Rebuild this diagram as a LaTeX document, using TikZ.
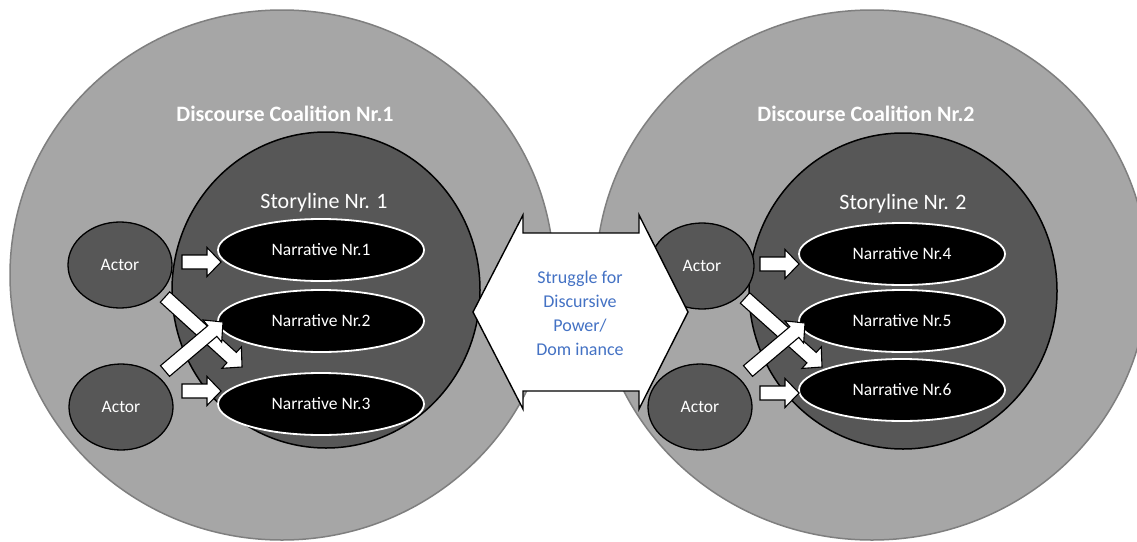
\documentclass[tikz,border=0pt]{standalone}
\usepackage{fontspec}
\setmainfont{Carlito}
\usetikzlibrary{shapes.geometric,calc}
\definecolor{bigfill}{HTML}{A6A6A6}
\definecolor{bigline}{HTML}{7F7F7F}
\definecolor{darkfill}{HTML}{575757}
\definecolor{struggleblue}{HTML}{4472C4}
\newcommand\blockarrow[2]{%
  \coordinate (hb) at ($(#2)!14pt!(#1)$);
  \draw[arrowbody] ($(#1)!7pt!90:(#2)$) -- ($(hb)!7pt!90:(#2)$) -- ($(hb)!14.5pt!90:(#2)$) -- (#2)
    -- ($(hb)!14.5pt!-90:(#2)$) -- ($(hb)!7pt!-90:(#2)$) -- ($(#1)!7pt!-90:(#2)$) -- cycle;%
}
\begin{document}
\begin{tikzpicture}[x=1pt,y=-1pt,
  big/.style={ellipse,draw=bigline,fill=bigfill,line width=1.5pt,inner sep=0pt},
  story/.style={ellipse,draw=black,fill=darkfill,line width=1.5pt,inner sep=0pt,minimum width=308pt,minimum height=316pt},
  actor/.style={ellipse,draw=black,fill=darkfill,line width=1.3pt,inner sep=0pt,minimum width=104pt,minimum height=86pt,text=white,font=\fontsize{17.5}{21}\selectfont},
  narr/.style={ellipse,draw=white,fill=black,line width=1.8pt,inner sep=0pt,minimum width=206pt,minimum height=62pt,text=white,font=\fontsize{17.5}{21}\selectfont},
  title/.style={text=white,font=\bfseries\fontsize{22}{26}\selectfont},
  stitle/.style={text=white,font=\fontsize{22}{26}\selectfont},
  arrowbody/.style={draw=black,fill=white,line width=1.1pt,line join=miter}
]
\useasboundingbox (0,0) rectangle (1137,541);
\clip (0,0) rectangle (1137,541);
\fill[white] (0,0) rectangle (1137,541);

% big coalition circles
\node[big,minimum width=544pt,minimum height=530pt] (c1) at (282,275) {};
\node[big,minimum width=552pt,minimum height=530pt] (c2) at (872,275) {};
\node[title] (c1t) at (285,114) {Discourse Coalition Nr.1};
\node[title] (c2t) at (866,114) {Discourse Coalition Nr.2};

% storyline circles
\node[story] (s1) at (326,290) {};
\node[story] (s2) at (903,291) {};
\node[stitle] (s1t) at (324,203) {Storyline Nr. 1};
\node[stitle] (s2t) at (903,204) {Storyline Nr. 2};

% actors
\node[actor] (a1) at (120,265) {Actor};
\node[actor] (a2) at (121,407) {Actor};
\node[actor] (a3) at (702,266) {Actor};
\node[actor] (a4) at (700,407) {Actor};

% narratives
\node[narr] (n1) at (321,250) {Narrative Nr.1};
\node[narr] (n2) at (321,321) {Narrative Nr.2};
\node[narr] (n3) at (321,404) {Narrative Nr.3};
\node[narr] (n4) at (902,254) {Narrative Nr.4};
\node[narr] (n5) at (902,321) {Narrative Nr.5};
\node[narr] (n6) at (902,390) {Narrative Nr.6};

% arrow end points
\coordinate (t1) at (182,262);  \coordinate (p1) at (221,262);
\coordinate (t2) at (182,391);  \coordinate (p2) at (221,391);
\coordinate (t3) at (165,297);  \coordinate (p3) at (242,367);
\coordinate (t4) at (165,371);  \coordinate (p4) at (223,322);
\coordinate (t5) at (760,264);  \coordinate (p5) at (799,264);
\coordinate (t6) at (760,393);  \coordinate (p6) at (799,393);
\coordinate (t7) at (745,298);  \coordinate (p7) at (822,367);
\coordinate (t8) at (748,371);  \coordinate (p8) at (805,323);

\blockarrow{t1}{p1}
\blockarrow{t2}{p2}
\blockarrow{t3}{p3}
\blockarrow{t4}{p4}
\blockarrow{t5}{p5}
\blockarrow{t6}{p6}
\blockarrow{t7}{p7}
\blockarrow{t8}{p8}

% central double arrow
\draw[arrowbody,line width=1.4pt] (473,312) -- (523,215) -- (523,233) -- (639,233) -- (639,215) -- (688,312)
  -- (639,409) -- (639,391) -- (523,391) -- (523,409) -- cycle;
\node[text=struggleblue,align=center,font=\fontsize{18}{24}\selectfont] (st) at (580,313)
  {Struggle for\\Discursive\\Power/\\Dom inance};
\end{tikzpicture}
\end{document}
